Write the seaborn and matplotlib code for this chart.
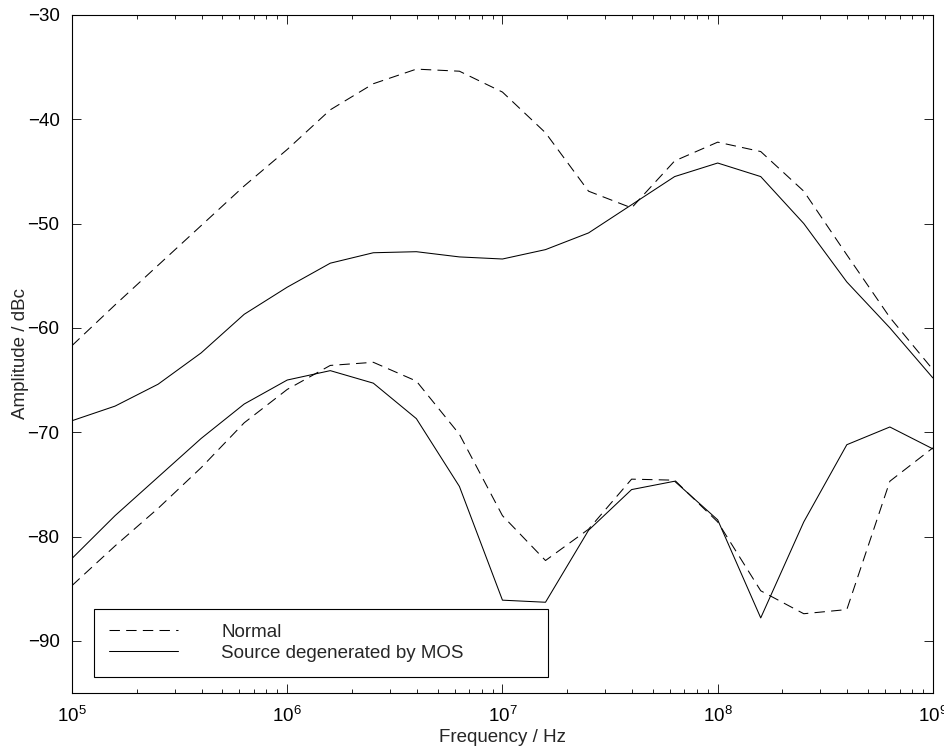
import numpy as np
import pandas as pd
import matplotlib
matplotlib.use('Agg')
import matplotlib.pyplot as plt
from matplotlib.lines import Line2D
import seaborn as sns

# frequency grid: 5 points per decade, 1e5 .. 1e9
freq = [1e5 * 10 ** (k / 5) for k in range(21)]

normal_hi = [-61.7, -57.8, -54.0, -50.2, -46.4, -42.9, -39.1, -36.6, -35.2, -35.4,
             -37.4, -41.3, -46.9, -48.5, -44.0, -42.2, -43.1, -46.9, -53.0, -59.0, -64.0]
mos_hi    = [-68.9, -67.5, -65.4, -62.4, -58.7, -56.1, -53.8, -52.8, -52.7, -53.2,
             -53.4, -52.5, -50.9, -48.2, -45.5, -44.2, -45.5, -50.0, -55.6, -60.0, -64.8]
normal_lo = [-84.7, -80.9, -77.3, -73.4, -69.1, -65.9, -63.6, -63.3, -65.1, -70.2,
             -78.0, -82.3, -79.3, -74.5, -74.6, -78.6, -85.2, -87.4, -87.0, -74.7, -71.5]
mos_lo    = [-82.1, -78.0, -74.3, -70.6, -67.3, -65.0, -64.1, -65.3, -68.7, -75.2,
             -86.1, -86.3, -79.4, -75.5, -74.7, -78.4, -87.8, -78.6, -71.2, -69.5, -71.6]

labels = ['Normal', 'Source degenerated by MOS']

sns.set_style('ticks')
plt.rcParams['font.family'] = ['Liberation Sans', 'DejaVu Sans']
plt.rcParams['font.size'] = 13.5

fig = plt.figure(figsize=(9.45, 7.51), dpi=100)
ax = fig.add_axes([0.0762, 0.0772, 0.911, 0.903])

DASH = (0, (10, 6))
curves = [(normal_hi, DASH), (mos_hi, '-'), (normal_lo, DASH), (mos_lo, '-')]
for vals, ls in curves:
    df = pd.DataFrame({'freq': freq, 'amp': vals})
    sns.lineplot(data=df, x='freq', y='amp', ax=ax, color='k', lw=0.75,
                 linestyle=ls, estimator=None, sort=False, legend=False)

ax.set_xscale('log')
ax.set_xlim(1e5, 1e9)
ax.set_ylim(-95, -30)
ax.set_yticks(np.arange(-90, -29, 10))
ax.set_xlabel('Frequency / Hz', labelpad=2)
ax.set_ylabel('Amplitude / dBc', labelpad=-1)

ax.tick_params(which='both', direction='in', top=True, right=True, colors='k', labelsize=13.5)
ax.tick_params(which='major', length=6.5, width=0.6)
ax.tick_params(which='minor', length=3, width=0.6)
ax.tick_params(axis='x', which='major', pad=9.5)
ax.tick_params(axis='y', which='major', pad=9)
for sp in ax.spines.values():
    sp.set_visible(True)
    sp.set_linewidth(0.8)
    sp.set_color('k')

handles = [Line2D([], [], color='k', lw=0.75, linestyle=DASH),
           Line2D([], [], color='k', lw=0.75, linestyle='-')]
leg = ax.legend(handles, labels, loc='lower left', bbox_to_anchor=(0.0255, 0.024, 0.527, 0.103),
                mode='expand', handlelength=3.7, handletextpad=2.3, fancybox=False,
                framealpha=1, edgecolor='k', borderpad=0.8, labelspacing=0.2,
                borderaxespad=0, fontsize=13.5)
leg.get_frame().set_linewidth(0.8)

fig.savefig('out.png', dpi=100)
